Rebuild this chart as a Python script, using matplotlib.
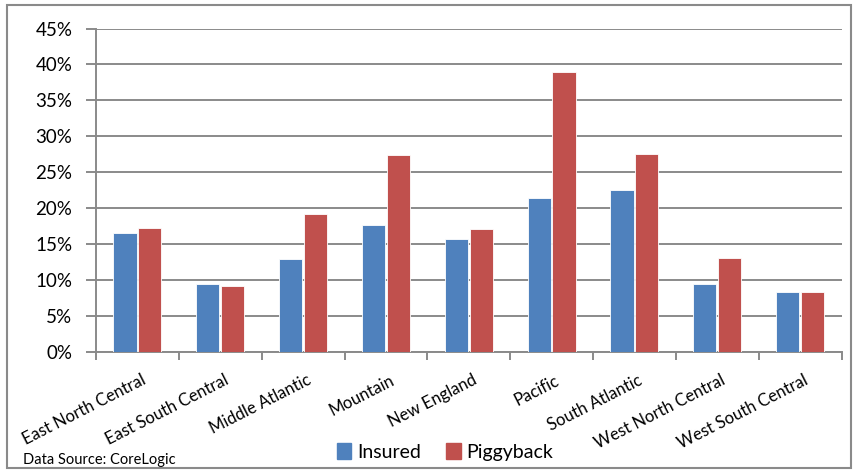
import matplotlib
matplotlib.use("Agg")
import matplotlib.pyplot as plt
from matplotlib.patches import Patch, Rectangle
import numpy as np

regions = ["East North Central", "East South Central", "Middle Atlantic", "Mountain",
           "New England", "Pacific", "South Atlantic", "West North Central", "West South Central"]
insured = [16.6, 9.5, 12.9, 17.6, 15.7, 21.4, 22.6, 9.5, 8.3]
piggyback = [17.2, 9.2, 19.2, 27.4, 17.1, 39.0, 27.5, 13.1, 8.3]
yticks = [0, 5, 10, 15, 20, 25, 30, 35, 40, 45]

blue = "#4F81BD"
red = "#C0504D"
grey = "#8a8a8a"

plt.rcParams['font.family'] = ['Lato', 'DejaVu Sans']

fig = plt.figure(figsize=(8.57, 4.72), dpi=100)
ax = fig.add_axes([0.112, 0.2542, 0.870, 0.6854])

x = np.arange(len(regions))
w = 0.28
ax.bar(x - 0.15, insured, w, color=blue, edgecolor="white", linewidth=0.6, zorder=3)
ax.bar(x + 0.15, piggyback, w, color=red, edgecolor="white", linewidth=0.6, zorder=3)

ax.set_xlim(-0.5, len(regions) - 0.5)
ax.set_ylim(0, 45)
ax.set_yticks(yticks)
ax.set_yticklabels([f"{v}%" for v in yticks], fontsize=13.5)
ax.yaxis.grid(True, color=grey, linewidth=1.4, zorder=0)
ax.set_axisbelow(True)

# ticks at category boundaries, labels at centers
ax.set_xticks(np.arange(len(regions) + 1) - 0.5)
ax.set_xticklabels([])
ax.tick_params(axis="x", direction="out", length=6, color=grey, width=1.4)
ax.tick_params(axis="y", direction="out", length=7, color=grey, width=1.4, pad=10)
for i, name in enumerate(regions):
    ax.text(i + 0.04, -2.8, name, rotation=27, rotation_mode="anchor",
            ha="right", va="top", fontsize=12)

for s in ["top", "right"]:
    ax.spines[s].set_visible(False)
for s in ["left", "bottom"]:
    ax.spines[s].set_color(grey)
    ax.spines[s].set_linewidth(1.4)

handles = [Patch(color=blue, label="Insured"), Patch(color=red, label="Piggyback")]
fig.legend(handles=handles, loc="center", bbox_to_anchor=(445 / 857, 1 - 452 / 472),
           ncol=2, frameon=False, fontsize=14, handlelength=0.75, handleheight=0.9,
           handletextpad=0.3, columnspacing=1.3)

fig.text(23 / 857, 1 - 460 / 472, "Data Source: CoreLogic", fontsize=10.5, va="center")

fig.patches.append(Rectangle((7 / 857, 4 / 472), 844 / 857, 463 / 472,
                             transform=fig.transFigure, fill=False,
                             edgecolor=grey, linewidth=1.5))

fig.savefig("out.png", dpi=100)
